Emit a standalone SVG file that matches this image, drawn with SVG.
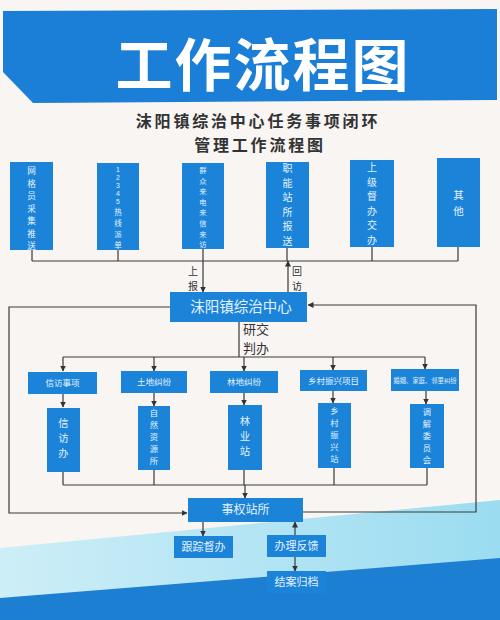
<svg xmlns="http://www.w3.org/2000/svg" width="500" height="620" viewBox="0 0 500 620">
<defs>
<style>
.bx{fill:#1b84d9;}
.wt{fill:#e6f2ff;font-family:"Noto Sans CJK SC","Noto Sans",sans-serif;text-anchor:middle;}
.dg{fill:#e6f2ff;font-family:"Liberation Sans",sans-serif;text-anchor:middle;}
.ln{fill:none;stroke:#3a3a3a;stroke-width:1.2;}
.lbl{fill:#333;font-family:"Noto Sans CJK SC","Noto Sans",sans-serif;}
</style>
<marker id="ah" markerWidth="6" markerHeight="6" refX="5.5" refY="3" orient="auto" markerUnits="userSpaceOnUse">
<path d="M0,0 L6,3 L0,6 z" fill="#333"/>
</marker>
<linearGradient id="cy" x1="0" y1="0" x2="1" y2="0">
<stop offset="0" stop-color="#cdeef7"/>
<stop offset="1" stop-color="#9bdcf1"/>
</linearGradient>
</defs>
<rect width="500" height="620" fill="#f8f5f3"/>
<!-- bottom decoration -->
<polygon points="0,548 500,500 500,620 0,620" fill="url(#cy)"/>
<polygon points="0,598 500,558 500,620 0,620" fill="#1c7fd2"/>
<!-- banner -->
<polygon points="3,11 497,9 497,100 33,103 3,72" fill="#1b7ed7"/>
<text x="263" y="86" fill="#ffffff" font-family="Noto Sans CJK SC, sans-serif" font-weight="bold" font-size="57" text-anchor="middle" letter-spacing="2">工作流程图</text>
<text x="258" y="127" class="lbl" font-weight="bold" font-size="16" letter-spacing="2.8" text-anchor="middle">沫阳镇综治中心任务事项闭环</text>
<text x="260" y="150.5" class="lbl" font-weight="bold" font-size="16" letter-spacing="2.8" text-anchor="middle">管理工作流程图</text>

<!-- connectors -->
<g id="connectors">
<path class="ln" d="M32,248 V261 M118,248 V261 M203,248 V261 M287,248 V261 M372,247 V261 M458,247 V261 M32,261 H458"/>
<path class="ln" d="M203,261 V292" marker-end="url(#ah)"/>
<path class="ln" d="M288,292 V261" marker-end="url(#ah)"/>
<path class="ln" d="M170,307 H9 V513 H187" marker-end="url(#ah)"/>
<path class="ln" d="M303,512 H476 V305 H308" marker-end="url(#ah)"/>
<path class="ln" d="M239,322 V357 M63,357 H425"/>
<path class="ln" d="M63,357 V371" marker-end="url(#ah)"/>
<path class="ln" d="M154,357 V371" marker-end="url(#ah)"/>
<path class="ln" d="M244,357 V371" marker-end="url(#ah)"/>
<path class="ln" d="M333,357 V370" marker-end="url(#ah)"/>
<path class="ln" d="M425,357 V369" marker-end="url(#ah)"/>
<path class="ln" d="M63,394 V407" marker-end="url(#ah)"/>
<path class="ln" d="M154,393 V406" marker-end="url(#ah)"/>
<path class="ln" d="M244,393 V405" marker-end="url(#ah)"/>
<path class="ln" d="M333,391 V403" marker-end="url(#ah)"/>
<path class="ln" d="M426,391 V404" marker-end="url(#ah)"/>
<path class="ln" d="M63,472 V485 M154,470 V485 M244,470 V485 M334,468 V485 M427,468 V485 M63,485 H427"/>
<path class="ln" d="M245,485 V498" marker-end="url(#ah)"/>
<path class="ln" d="M203,522 V536" marker-end="url(#ah)"/>
<path class="ln" d="M295,535 V522" marker-end="url(#ah)"/>
<path class="ln" d="M295,557 V571" marker-end="url(#ah)"/>
<text class="lbl" font-size="10" x="188" y="275">上</text>
<text class="lbl" font-size="10" x="188" y="290">报</text>
<text class="lbl" font-size="10" x="292" y="275">回</text>
<text class="lbl" font-size="10" x="292" y="290">访</text>
<text class="lbl" font-size="13" x="243" y="334">研交</text>
<text class="lbl" font-size="13" x="243" y="353">判办</text>
</g>

<!-- top source boxes -->
<g id="n-wangge">
<rect class="bx" x="10" y="162" width="43" height="88"/>
<text class="wt" font-size="8.6" x="31.5" y="174">网</text>
<text class="wt" font-size="8.6" x="31.5" y="186.5">格</text>
<text class="wt" font-size="8.6" x="31.5" y="199">员</text>
<text class="wt" font-size="8.6" x="31.5" y="211.5">采</text>
<text class="wt" font-size="8.6" x="31.5" y="224">集</text>
<text class="wt" font-size="8.6" x="31.5" y="236.5">推</text>
<text class="wt" font-size="8.6" x="31.5" y="249">送</text>
</g>
<g id="n-12345">
<rect class="bx" x="97" y="163" width="42" height="87"/>
<text class="dg" font-size="6.8" x="118" y="172">1</text>
<text class="dg" font-size="6.8" x="118" y="180">2</text>
<text class="dg" font-size="6.8" x="118" y="188">3</text>
<text class="dg" font-size="6.8" x="118" y="196">4</text>
<text class="dg" font-size="6.8" x="118" y="204">5</text>
<text class="wt" font-size="7.5" x="118" y="214.5">热</text>
<text class="wt" font-size="7.5" x="118" y="225.5">线</text>
<text class="wt" font-size="7.5" x="118" y="236.5">派</text>
<text class="wt" font-size="7.5" x="118" y="247.5">单</text>
</g>
<g id="n-qunzhong">
<rect class="bx" x="182" y="163" width="42" height="86"/>
<text class="wt" font-size="7.3" x="203" y="173">群</text>
<text class="wt" font-size="7.3" x="203" y="183.6">众</text>
<text class="wt" font-size="7.3" x="203" y="194.2">来</text>
<text class="wt" font-size="7.3" x="203" y="204.8">电</text>
<text class="wt" font-size="7.3" x="203" y="215.4">来</text>
<text class="wt" font-size="7.3" x="203" y="226">信</text>
<text class="wt" font-size="7.3" x="203" y="236.6">来</text>
<text class="wt" font-size="7.3" x="203" y="247.2">访</text>
</g>
<g id="n-zhineng">
<rect class="bx" x="266" y="162" width="43" height="86"/>
<text class="wt" font-size="10" x="287.5" y="172">职</text>
<text class="wt" font-size="10" x="287.5" y="186.6">能</text>
<text class="wt" font-size="10" x="287.5" y="201.2">站</text>
<text class="wt" font-size="10" x="287.5" y="215.8">所</text>
<text class="wt" font-size="10" x="287.5" y="230.4">报</text>
<text class="wt" font-size="10" x="287.5" y="245">送</text>
</g>
<g id="n-shangji">
<rect class="bx" x="350" y="160" width="44" height="87"/>
<text class="wt" font-size="10" x="372" y="171">上</text>
<text class="wt" font-size="10" x="372" y="185.6">级</text>
<text class="wt" font-size="10" x="372" y="200.2">督</text>
<text class="wt" font-size="10" x="372" y="214.8">办</text>
<text class="wt" font-size="10" x="372" y="229.4">交</text>
<text class="wt" font-size="10" x="372" y="244">办</text>
</g>
<g id="n-qita">
<rect class="bx" x="437" y="158" width="43" height="89"/>
<text class="wt" font-size="10.5" x="458.5" y="199">其</text>
<text class="wt" font-size="10.5" x="458.5" y="215">他</text>
</g>

<!-- center -->
<g id="n-center">
<rect class="bx" x="170" y="292" width="137" height="30"/>
<text class="wt" font-size="14.5" x="241" y="312">沫阳镇综治中心</text>
</g>

<!-- category boxes -->
<g id="n-xinfang">
<rect class="bx" x="28" y="372" width="69" height="22"/>
<text class="wt" font-size="8.5" x="62.5" y="386">信访事项</text>
</g>
<g id="n-tudi">
<rect class="bx" x="121" y="371" width="66" height="22"/>
<text class="wt" font-size="8.5" x="154" y="385">土地纠纷</text>
</g>
<g id="n-lindi">
<rect class="bx" x="210" y="371" width="68" height="22"/>
<text class="wt" font-size="8.5" x="244" y="385">林地纠纷</text>
</g>
<g id="n-xiangcun">
<rect class="bx" x="300" y="370" width="67" height="21"/>
<text class="wt" font-size="8.5" x="333.5" y="384">乡村振兴项目</text>
</g>
<g id="n-hunyin">
<rect class="bx" x="391" y="369" width="68" height="22"/>
<text class="wt" font-size="6.3" x="425" y="383">婚姻、家庭、邻里纠纷</text>
</g>

<!-- department boxes -->
<g id="n-xinfangban">
<rect class="bx" x="47" y="408" width="33" height="64"/>
<text class="wt" font-size="10.3" x="63.5" y="427">信</text>
<text class="wt" font-size="10.3" x="63.5" y="442">访</text>
<text class="wt" font-size="10.3" x="63.5" y="457">办</text>
</g>
<g id="n-ziran">
<rect class="bx" x="138" y="406" width="32" height="64"/>
<text class="wt" font-size="8.3" x="154" y="416">自</text>
<text class="wt" font-size="8.3" x="154" y="428">然</text>
<text class="wt" font-size="8.3" x="154" y="440">资</text>
<text class="wt" font-size="8.3" x="154" y="452">源</text>
<text class="wt" font-size="8.3" x="154" y="464">所</text>
</g>
<g id="n-linye">
<rect class="bx" x="228" y="405" width="34" height="65"/>
<text class="wt" font-size="10.3" x="245" y="425">林</text>
<text class="wt" font-size="10.3" x="245" y="440">业</text>
<text class="wt" font-size="10.3" x="245" y="455">站</text>
</g>
<g id="n-xiangcunzhan">
<rect class="bx" x="318" y="403" width="33" height="65"/>
<text class="wt" font-size="8.3" x="334.5" y="414">乡</text>
<text class="wt" font-size="8.3" x="334.5" y="426">村</text>
<text class="wt" font-size="8.3" x="334.5" y="438">振</text>
<text class="wt" font-size="8.3" x="334.5" y="450">兴</text>
<text class="wt" font-size="8.3" x="334.5" y="462">站</text>
</g>
<g id="n-tiaojie">
<rect class="bx" x="410" y="404" width="34" height="64"/>
<text class="wt" font-size="8.3" x="427" y="415">调</text>
<text class="wt" font-size="8.3" x="427" y="427">解</text>
<text class="wt" font-size="8.3" x="427" y="439">委</text>
<text class="wt" font-size="8.3" x="427" y="451">员</text>
<text class="wt" font-size="8.3" x="427" y="463">会</text>
</g>

<!-- bottom -->
<g id="n-shiquan">
<rect class="bx" x="188" y="498" width="115" height="24"/>
<text class="wt" font-size="12" x="245.5" y="514">事权站所</text>
</g>
<g id="n-genzong">
<rect class="bx" x="174" y="536" width="59" height="22"/>
<text class="wt" font-size="11" x="203.5" y="551">跟踪督办</text>
</g>
<g id="n-banli">
<rect class="bx" x="267" y="535" width="59" height="22"/>
<text class="wt" font-size="11" x="296.5" y="550">办理反馈</text>
</g>
<g id="n-jiean">
<rect class="bx" x="267" y="571" width="59" height="22"/>
<text class="wt" font-size="11" x="296.5" y="586">结案归档</text>
</g>
</svg>
